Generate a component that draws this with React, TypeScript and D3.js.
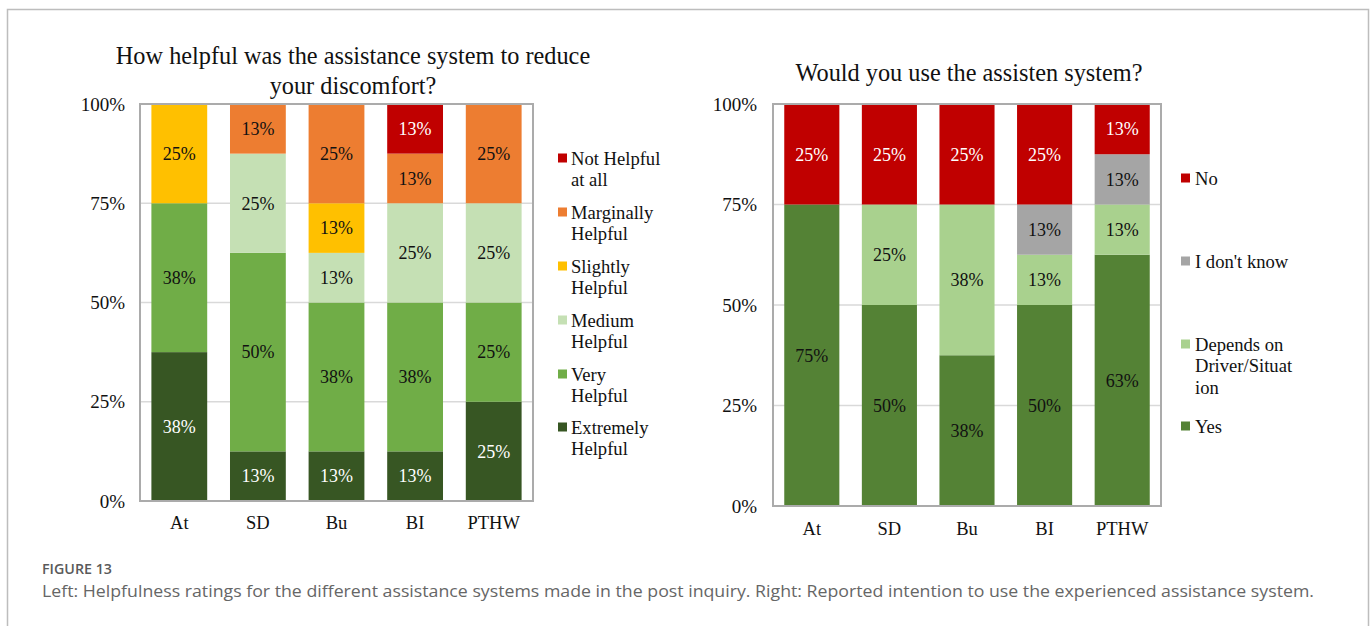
import React from "react";
import * as d3 from "d3";

const categories = ["At", "SD", "Bu", "BI", "PTHW"];

// Left chart: helpfulness (stack order bottom -> top)
const helpKeys = ["Extremely Helpful", "Very Helpful", "Medium Helpful", "Slightly Helpful", "Marginally Helpful", "Not Helpful at all"];
const extremely = [37.5, 12.5, 12.5, 12.5, 25];
const very = [37.5, 50, 37.5, 37.5, 25];
const medium = [0, 25, 12.5, 25, 25];
const slightly = [25, 0, 12.5, 0, 0];
const marginally = [0, 12.5, 25, 12.5, 25];
const notHelpful = [0, 0, 0, 12.5, 0];
const helpColors = ["#375623", "#70AD47", "#C5E0B4", "#FFC000", "#ED7D31", "#C00000"];
const helpLabelColors = ["#ffffff", "#111", "#111", "#111", "#111", "#ffffff"];
const helpLegendLines = [["Not Helpful", "at all"], ["Marginally", "Helpful"], ["Slightly", "Helpful"], ["Medium", "Helpful"], ["Very", "Helpful"], ["Extremely", "Helpful"]];

// Right chart: intention to use (stack order bottom -> top)
const useKeys = ["Yes", "Depends on Driver/Situation", "I don't know", "No"];
const yes = [75, 50, 37.5, 50, 62.5];
const depends = [0, 25, 37.5, 12.5, 12.5];
const dontKnow = [0, 0, 0, 12.5, 12.5];
const no = [25, 25, 25, 25, 12.5];
const useColors = ["#548235", "#A9D18E", "#A5A5A5", "#C00000"];
const useLabelColors = ["#111", "#111", "#111", "#ffffff"];
const useLegendLines = [["No"], ["I don't know"], ["Depends on", "Driver/Situat", "ion"], ["Yes"]];

const yTicks = [0, 25, 50, 75, 100];

const serif = "'Liberation Serif', 'Times New Roman', serif";

type Panel = {
  x0: number; x1: number; y0: number; y1: number;
  series: number[][]; colors: string[]; labelColors: string[];
  tickRight: number; xLabelY: number;
};

function StackedPanel({ p }: { p: Panel }) {
  const x = d3.scaleBand<string>().domain(categories).range([p.x0, p.x1]).paddingInner(0.29).paddingOuter(0.145);
  const y = d3.scaleLinear().domain([0, 100]).range([p.y1, p.y0]);
  const rows = categories.map((c, i) => {
    const o: any = { cat: c };
    p.series.forEach((s, k) => (o["k" + k] = s[i]));
    return o;
  });
  const stack = d3.stack<any>().keys(p.series.map((_, k) => "k" + k))(rows);
  return (
    <g>
      {yTicks.filter(t => t > 0 && t < 100).map(t => (
        <line key={t} x1={p.x0} x2={p.x1} y1={y(t)} y2={y(t)} stroke="#d9d9d9" strokeWidth={1.5} />
      ))}
      {stack.map((layer, k) => (
        <g key={k}>
          {layer.map((d, i) => {
            const h = y(d[0]) - y(d[1]);
            if (h <= 0) return null;
            return (
              <rect key={i} x={x(categories[i])} y={y(d[1])} width={x.bandwidth()} height={h} fill={p.colors[k]} />
            );
          })}
        </g>
      ))}
      {stack.map((layer, k) => (
        <g key={"l" + k}>
          {layer.map((d, i) => {
            const v = d[1] - d[0];
            if (v <= 0) return null;
            return (
              <text key={i} x={(x(categories[i]) as number) + x.bandwidth() / 2} y={y((d[0] + d[1]) / 2)} dy="0.35em"
                textAnchor="middle" fontFamily={serif} fontSize={18} fill={p.labelColors[k]}>
                {Math.round(v) + "%"}
              </text>
            );
          })}
        </g>
      ))}
      <rect x={p.x0} y={p.y0} width={p.x1 - p.x0} height={p.y1 - p.y0} fill="none" stroke="#ababab" strokeWidth={2} />
      {yTicks.map(t => (
        <text key={t} x={p.tickRight} y={y(t)} dy="0.35em" textAnchor="end" fontFamily={serif} fontSize={19} fill="#111">
          {t + "%"}
        </text>
      ))}
      {categories.map(c => (
        <text key={c} x={(x(c) as number) + x.bandwidth() / 2} y={p.xLabelY} textAnchor="middle" fontFamily={serif} fontSize={18.5} fill="#111">
          {c}
        </text>
      ))}
    </g>
  );
}

export default function App() {
  const left: Panel = {
    x0: 140, x1: 533, y0: 104, y1: 501,
    series: [extremely, very, medium, slightly, marginally, notHelpful],
    colors: helpColors, labelColors: helpLabelColors, tickRight: 125, xLabelY: 529,
  };
  const right: Panel = {
    x0: 773, x1: 1161, y0: 104, y1: 506,
    series: [yes, depends, dontKnow, no],
    colors: useColors, labelColors: useLabelColors, tickRight: 757, xLabelY: 535,
  };
  const helpLegendColors = helpColors.slice().reverse();
  const helpLegendY = [158, 212, 266, 320, 374, 427];
  const useLegendColors = useColors.slice().reverse();
  const useLegendY = [178, 261, 344, 426];
  return (
    <svg width={1372} height={626} style={{ position: "absolute", left: 0, top: 0, background: "#fff" }}>
      <rect x={0} y={0} width={1372} height={626} fill="#fff" />
      <path d="M7.5,640 V9.5 H1368.5 V640" fill="none" stroke="#bdbdbd" strokeWidth={1.5} />
      <text x={353} y={55} dy="0.35em" textAnchor="middle" fontFamily={serif} fontSize={24.3} fill="#111">How helpful was the assistance system to reduce</text>
      <text x={353} y={85} dy="0.35em" textAnchor="middle" fontFamily={serif} fontSize={24.3} fill="#111">your discomfort?</text>
      <text x={969} y={72} dy="0.35em" textAnchor="middle" fontFamily={serif} fontSize={24.3} fill="#111">Would you use the assisten system?</text>
      <StackedPanel p={left} />
      <StackedPanel p={right} />
      {helpLegendLines.map((lines, i) => (
        <g key={i}>
          <rect x={558} y={helpLegendY[i] - 4.5} width={9} height={9} fill={helpLegendColors[i]} />
          {lines.map((l, j) => (
            <text key={j} x={571} y={helpLegendY[i] + j * 21.5} dy="0.35em" fontFamily={serif} fontSize={18.6} fill="#111">{l}</text>
          ))}
        </g>
      ))}
      {useLegendLines.map((lines, i) => (
        <g key={i}>
          <rect x={1181} y={useLegendY[i] - 4.5} width={9} height={9} fill={useLegendColors[i]} />
          {lines.map((l, j) => (
            <text key={j} x={1195} y={useLegendY[i] + j * 21.5} dy="0.35em" fontFamily={serif} fontSize={18.6} fill="#111">{l}</text>
          ))}
        </g>
      ))}
      <text x={42} y={569} dy="0.35em" fontFamily="'Open Sans', 'Noto Sans', sans-serif" fontSize={14} fontWeight={600} fill="#5a5a5a" textLength={70} lengthAdjust="spacingAndGlyphs">FIGURE 13</text>
      <text x={42} y={591} dy="0.35em" fontFamily="'Open Sans', 'Noto Sans', sans-serif" fontSize={16.5} fill="#666" textLength={1272} lengthAdjust="spacingAndGlyphs">
        Left: Helpfulness ratings for the different assistance systems made in the post inquiry. Right: Reported intention to use the experienced assistance system.
      </text>
    </svg>
  );
}
